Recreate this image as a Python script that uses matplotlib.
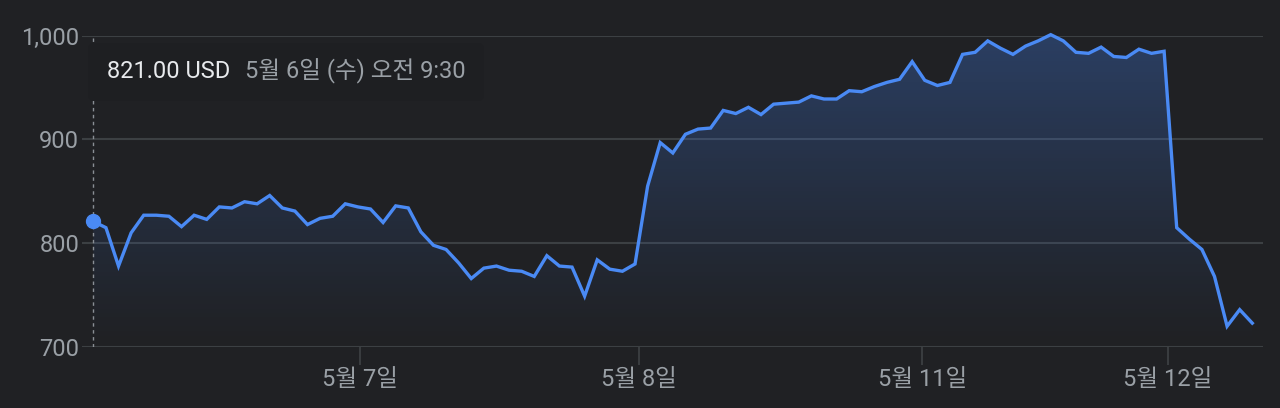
import matplotlib
matplotlib.use("Agg")
import matplotlib.pyplot as plt
import numpy as np
from matplotlib.patches import FancyBboxPatch, Polygon

plt.rcParams['font.family'] = ['Roboto', 'Noto Sans CJK KR', 'DejaVu Sans']

# ---- data (USD, 5-day intraday) ----
prices = [821, 815, 778, 810, 827, 827, 826, 816, 827, 823,
          835, 834, 840, 838, 846, 834, 831, 818, 824, 826,
          838, 835, 833, 820, 836, 834, 811, 798, 794, 781,
          766, 776, 778, 774, 773, 768, 788, 778, 777, 749,
          784, 775, 773, 780, 855, 897, 887, 905, 910, 911,
          928, 925, 931, 924, 934, 935, 936, 942, 939, 939,
          947, 946, 951, 955, 958, 975, 957, 952, 955, 982,
          984, 995, 988, 982, 990, 995, 1001, 995, 984, 983,
          989, 980, 979, 987, 983, 985, 815, 804, 794, 768,
          720, 736, 723]
tick_pos = [21.2, 43.3, 65.8, 85.3]
tick_labels = ["5월 7일", "5월 8일", "5월 11일", "5월 12일"]
y_ticks = [700, 800, 900, 1000]
y_tick_labels = ["700", "800", "900", "1,000"]
tip_value = "821.00 USD"
tip_time = "5월 6일 (수) 오전 9:30"

BG = '#202124'
GRID = '#3c4043'
LINE = '#4a8af4'
TXT = '#9aa0a6'

x = np.arange(len(prices))
y = np.array(prices, dtype=float)

fig = plt.figure(figsize=(12.8, 4.08), dpi=100, facecolor=BG)
ax = fig.add_axes([82/1280, 1-347/408, (1263-82)/1280, (347-35.7)/408])
ax.set_facecolor(BG)
ax.set_xlim(-0.9, 92.85)
ax.set_ylim(700, 1000)

for s in ax.spines.values():
    s.set_visible(False)

ax.set_yticks(y_ticks)
ax.set_yticklabels(y_tick_labels)
ax.grid(axis='y', color=GRID, lw=1.5)
ax.set_axisbelow(True)
ax.tick_params(axis='y', length=0, pad=2, labelsize=17, labelcolor=TXT)

ax.set_xticks(tick_pos)
ax.set_xticklabels(tick_labels)
ax.tick_params(axis='x', length=13, width=1.3, color=GRID, pad=2,
               labelsize=17, labelcolor=TXT)

# gradient fill under the line
verts = np.column_stack([np.r_[x, x[-1], x[0]], np.r_[y, 700, 700]])
poly = Polygon(verts, closed=True, facecolor='none', edgecolor='none')
ax.add_patch(poly)
n = 256
grad = np.zeros((n, 1, 4))
grad[:, 0, 0] = 0.26
grad[:, 0, 1] = 0.50
grad[:, 0, 2] = 0.92
grad[:, 0, 3] = np.linspace(0.36, 0.0, n) ** 1.1
im = ax.imshow(grad, aspect='auto', extent=[x[0], x[-1], 700, 1005],
               origin='upper', zorder=1, interpolation='bicubic')
im.set_clip_path(poly)

ax.plot(x, y, color=LINE, lw=2.4, zorder=3, clip_on=False,
        solid_joinstyle='miter')

# hover line and marker
ax.axvline(0, color='#8a8f95', lw=1, linestyle=(0, (2.5, 2.5)), zorder=2)
ax.plot([0], [prices[0]], 'o', ms=10, color=LINE, zorder=4, clip_on=False)

# tooltip box
box = FancyBboxPatch((88, 408-101), 396, 58, boxstyle="round,pad=0,rounding_size=6",
                     transform=None, facecolor='#1e1f22', edgecolor='none',
                     zorder=5)
fig.patches.append(box)
fig.text(107/1280, 1-71/408, tip_value, color='#e8eaed', fontsize=17,
         va='center', ha='left', zorder=6)
fig.text(245/1280, 1-71/408, tip_time, color=TXT, fontsize=17,
         va='center', ha='left', zorder=6)

fig.savefig("out.png", dpi=100, facecolor=BG)
